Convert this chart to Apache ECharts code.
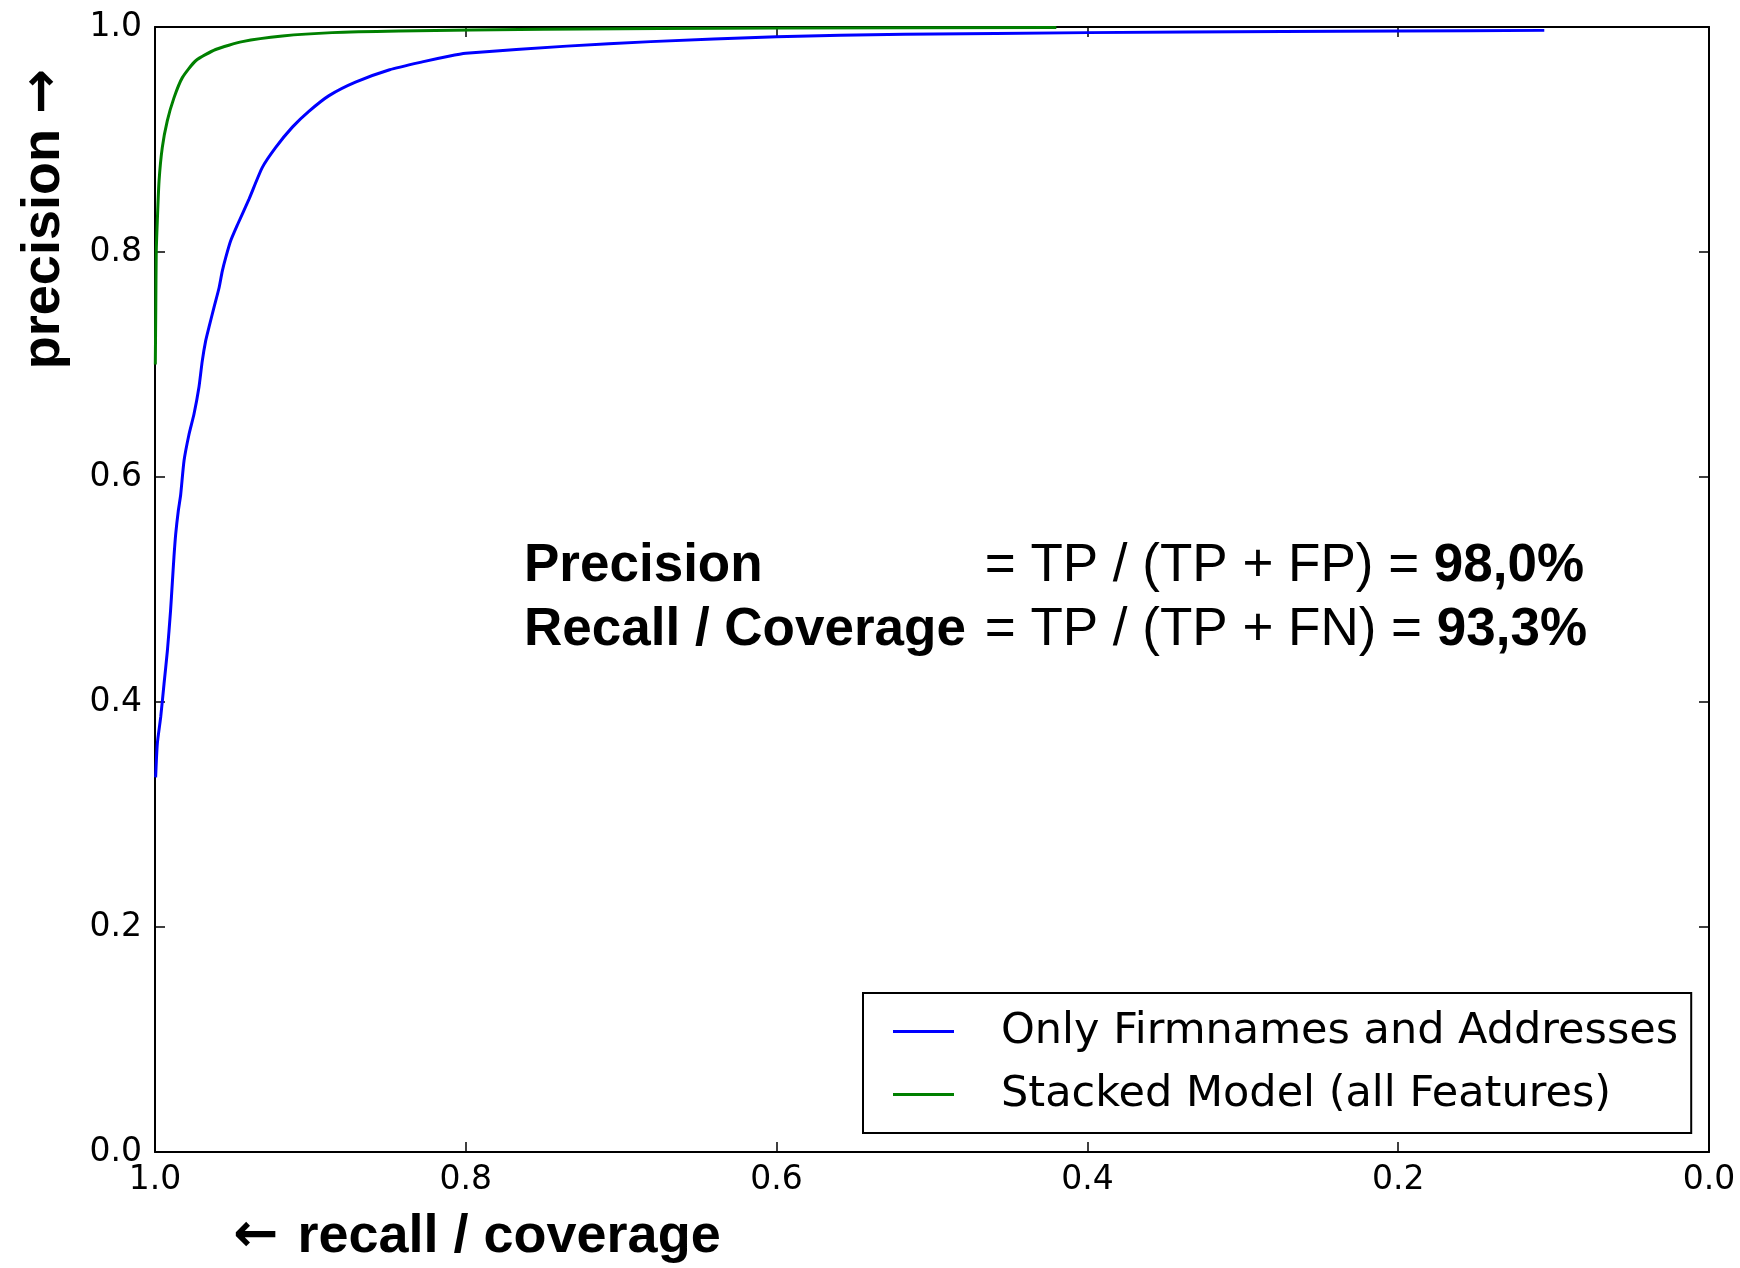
<!DOCTYPE html>
<html>
<head>
<meta charset="utf-8">
<script src="https://cdn.jsdelivr.net/npm/echarts@6/dist/echarts.min.js"></script>
<style>
  html, body { margin: 0; padding: 0; background: #fff; }
  #chart { width: 1740px; height: 1268px; }
</style>
</head>
<body>
<div id="chart"></div>
<script>
// values (recall on x, precision on y)
const seriesNames = ['Only Firmnames and Addresses', 'Stacked Model (all Features)']

const blueRecall = [0.9996, 0.9985, 0.9963, 0.9942, 0.992, 0.990, 0.9889, 0.9878, 0.9867, 0.985,
  0.9835, 0.9813, 0.9781, 0.9749, 0.9717, 0.9696, 0.9674, 0.9653, 0.962, 0.9588,
  0.9567, 0.9545, 0.9513, 0.947, 0.9395, 0.931, 0.9223, 0.9116, 0.901, 0.888,
  0.871, 0.849, 0.828, 0.811, 0.80, 0.735, 0.681, 0.60, 0.518, 0.40,
  0.274, 0.20, 0.106]
const bluePrecision = [0.333, 0.363, 0.387, 0.416, 0.446, 0.481, 0.505, 0.529, 0.549, 0.570,
  0.584, 0.6146, 0.638, 0.656, 0.680, 0.703, 0.721, 0.733, 0.751, 0.768,
  0.783, 0.795, 0.810, 0.824, 0.847, 0.875, 0.893, 0.911, 0.925, 0.939,
  0.951, 0.962, 0.969, 0.974, 0.9766, 0.983, 0.987, 0.9914, 0.9935, 0.995,
  0.996, 0.9964, 0.997]

const greenRecall = [0.9998, 0.9995, 0.9992, 0.9985, 0.9974, 0.9953, 0.9921, 0.9878, 0.9824, 0.9738,
  0.961, 0.9438, 0.918, 0.886, 0.843, 0.75, 0.60, 0.42]
const greenPrecision = [0.70, 0.75, 0.80, 0.828, 0.863, 0.893, 0.9165, 0.937, 0.955, 0.970,
  0.980, 0.987, 0.992, 0.995, 0.9964, 0.998, 0.999, 0.9995]

const pairs = (xs, ys) => xs.map((x, i) => [x, ys[i]])

const tickFont = 'DejaVu Sans'
const boldFont = "'Liberation Sans', Arial, sans-serif"

const frameAxis = (extra) => ({
  type: 'value',
  min: 0,
  max: 1,
  interval: 0.2,
  axisLine: { show: true, onZero: false, lineStyle: { color: '#000', width: 2 } },
  axisTick: { show: true, inside: true, length: 10, lineStyle: { color: '#000', width: 1.5 } },
  splitLine: { show: false },
  ...extra
})

const textRich = {
  lbl: { fontFamily: boldFont, fontWeight: 'bold', fontSize: 53, color: '#000', width: 446 },
  b: { fontFamily: boldFont, fontWeight: 'bold', fontSize: 53, color: '#000' },
  r: { fontFamily: boldFont, fontSize: 53, color: '#000' }
}

const chart = echarts.init(document.getElementById('chart'))

chart.setOption({
  backgroundColor: '#fff',
  animation: false,
  grid: { left: 155, right: 31, top: 27, bottom: 116 },
  legend: {
    orient: 'vertical',
    left: 863,
    top: 993,
    padding: [17, 13, 17, 30],
    itemGap: 20,
    itemWidth: 61,
    itemHeight: 3,
    icon: 'rect',
    borderColor: '#000',
    borderWidth: 2,
    borderRadius: 0,
    backgroundColor: '#fff',
    data: seriesNames,
    textStyle: { fontFamily: tickFont, fontSize: 43, color: '#000', padding: [0, 0, 0, 42] }
  },
  xAxis: [
    frameAxis({
      position: 'bottom',
      inverse: true,
      axisLabel: {
        margin: 12,
        fontFamily: tickFont,
        fontSize: 33,
        color: '#000',
        formatter: v => v.toFixed(1)
      }
    }),
    frameAxis({ position: 'top', inverse: true, axisLabel: { show: false } })
  ],
  yAxis: [
    frameAxis({
      position: 'left',
      axisLabel: {
        margin: 13,
        fontFamily: tickFont,
        fontSize: 33,
        color: '#000',
        formatter: v => v.toFixed(1)
      }
    }),
    frameAxis({ position: 'right', axisLabel: { show: false } })
  ],
  graphic: [
    {
      type: 'text',
      x: 44,
      y: 219,
      rotation: Math.PI / 2,
      style: {
        text: '{t|precision }{a|\u2192}',
        align: 'center',
        verticalAlign: 'middle',
        rich: {
          t: { fontFamily: boldFont, fontWeight: 'bold', fontSize: 54, color: '#000' },
          a: { fontFamily: 'DejaVu Sans', fontWeight: 'bold', fontSize: 54, color: '#000' }
        }
      }
    },
    {
      type: 'text',
      x: 477,
      y: 1237,
      style: {
        text: '{a|\u2190 }{t|recall / coverage}',
        align: 'center',
        verticalAlign: 'middle',
        rich: {
          t: { fontFamily: boldFont, fontWeight: 'bold', fontSize: 54, color: '#000' },
          a: { fontFamily: 'DejaVu Sans', fontWeight: 'bold', fontSize: 54, color: '#000' }
        }
      }
    },
    {
      type: 'text',
      x: 524,
      y: 566,
      style: {
        text: '{lbl|Precision}{r| = TP / (TP + FP) = }{b|98,0%}',
        verticalAlign: 'middle',
        rich: textRich
      }
    },
    {
      type: 'text',
      x: 524,
      y: 630,
      style: {
        text: '{lbl|Recall / Coverage}{r| = TP / (TP + FN) = }{b|93,3%}',
        verticalAlign: 'middle',
        rich: textRich
      }
    }
  ],
  series: [
    {
      name: seriesNames[0],
      type: 'line',
      showSymbol: false,
      symbol: 'none',
      smooth: 0.2,
      itemStyle: { color: '#0000ff' },
      lineStyle: { color: '#0000ff', width: 3 },
      data: pairs(blueRecall, bluePrecision),
      z: 3
    },
    {
      name: seriesNames[1],
      type: 'line',
      showSymbol: false,
      symbol: 'none',
      smooth: 0.2,
      itemStyle: { color: '#008000' },
      lineStyle: { color: '#008000', width: 3 },
      data: pairs(greenRecall, greenPrecision),
      z: 4
    }
  ]
})
</script>
</body>
</html>
